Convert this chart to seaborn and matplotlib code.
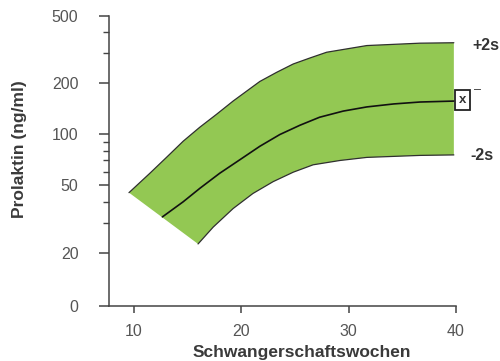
import matplotlib
matplotlib.use("Agg")
import matplotlib.pyplot as plt
import seaborn as sns
import pandas as pd
from matplotlib.ticker import FixedLocator, FixedFormatter

# Prolactin reference range across pregnancy (ng/ml)
upper_weeks = [9.56, 11.5, 13.05, 14.6, 16.15, 17.7, 19.25, 21.74, 23.3, 24.85, 26.4, 27.96, 31.7, 36.65, 39.8]
upper_vals = [45.2, 58.8, 73.0, 90.9, 110, 131, 157, 205, 232, 260, 282, 305, 334, 345, 347]

mean_weeks = [12.67, 14.6, 16.15, 18.0, 19.88, 21.74, 23.6, 25.47, 27.3, 29.5, 31.7, 34.2, 36.65, 39.8]
mean_vals = [32.5, 39.9, 47.9, 58.8, 70.7, 84.9, 99.6, 113, 126, 137, 145, 151, 155, 157]

lower_weeks = [15.99, 17.4, 19.25, 21.1, 22.98, 24.85, 26.7, 29.2, 31.7, 36.65, 39.8]
lower_vals = [22.5, 28.3, 36.4, 44.7, 52.5, 59.7, 66, 70, 73, 75, 75.5]

y_major = [9.66, 20, 50, 100, 200, 500]
y_major_labels = ["0", "20", "50", "100", "200", "500"]
y_minor = [30, 40, 60, 70, 80, 90, 300, 400]
x_ticks = [10, 20, 30, 40]

sns.set_theme(style="ticks")
plt.rcParams["font.family"] = ["Liberation Sans", "DejaVu Sans"]

fig = plt.figure(figsize=(5, 3.61), dpi=100)
ax = fig.add_axes([0.218, 0.152, 0.694, 0.804])

band_color = "#93c853"
line_color = "#2f2f2f"

# Shaded ±2s band as one polygon (upper edge, then lower edge back)
poly_x = upper_weeks + lower_weeks[::-1]
poly_y = upper_vals + lower_vals[::-1]
ax.fill(poly_x, poly_y, color=band_color, lw=0, zorder=1)

df_up = pd.DataFrame({"week": upper_weeks, "val": upper_vals})
df_mid = pd.DataFrame({"week": mean_weeks, "val": mean_vals})
df_lo = pd.DataFrame({"week": lower_weeks, "val": lower_vals})
sns.lineplot(data=df_up, x="week", y="val", ax=ax, color=line_color, lw=0.9, zorder=3, sort=False)
sns.lineplot(data=df_lo, x="week", y="val", ax=ax, color=line_color, lw=0.9, zorder=3, sort=False)
sns.lineplot(data=df_mid, x="week", y="val", ax=ax, color="#111111", lw=1.2, zorder=3, sort=False)

ax.set_yscale("log")
ax.set_ylim(9.66, 500)
ax.set_xlim(7.7, 40)

ax.yaxis.set_major_locator(FixedLocator(y_major))
ax.yaxis.set_major_formatter(FixedFormatter(y_major_labels))
ax.yaxis.set_minor_locator(FixedLocator(y_minor))
ax.yaxis.set_minor_formatter(FixedFormatter([""] * len(y_minor)))
ax.set_xticks(x_ticks)
ax.set_xticklabels([str(t) for t in x_ticks])

spine_color = "#444444"
for side in ["top", "right"]:
    ax.spines[side].set_visible(False)
for side in ["left", "bottom"]:
    ax.spines[side].set_color(spine_color)
    ax.spines[side].set_linewidth(1.1)

ax.tick_params(axis="y", which="major", length=7, width=1.1, color=spine_color,
               labelsize=11.5, labelcolor="#555555", pad=15)
ax.tick_params(axis="y", which="minor", length=4, width=1.0, color=spine_color)
ax.tick_params(axis="x", which="major", length=5, width=1.1, color=spine_color,
               labelsize=11.5, labelcolor="#555555", pad=8)

ax.set_ylabel("Prolaktin (ng/ml)", fontsize=12.5, fontweight="bold", color="#3a3a3a")
ax.yaxis.set_label_coords(-0.235, 0.54)
ax.set_xlabel("")
fig.text(302 / 500, 1 - 352 / 361, "Schwangerschaftswochen", ha="center", va="center",
         fontsize=12.5, fontweight="bold", color="#3a3a3a")

# Band labels and mean symbol on the right
ax.text(472 / 500, 1 - 45 / 361, "+2s", transform=fig.transFigure, ha="left", va="center",
        fontsize=11.5, fontweight="bold", color="#333333")
ax.text(470 / 500, 1 - 155 / 361, "-2s", transform=fig.transFigure, ha="left", va="center",
        fontsize=11.5, fontweight="bold", color="#333333")
ax.text(462.5 / 500, 1 - 100 / 361, "x", transform=fig.transFigure, ha="center", va="center",
        fontsize=9.5, fontweight="bold", color="#333333",
        bbox=dict(boxstyle="square,pad=0.3", fc="white", ec="#222222", lw=1.3))
ax.text(478 / 500, 1 - 90 / 361, "\u2013", transform=fig.transFigure, ha="center", va="center",
        fontsize=9, color="#333333")

fig.savefig("out.png", dpi=100)
